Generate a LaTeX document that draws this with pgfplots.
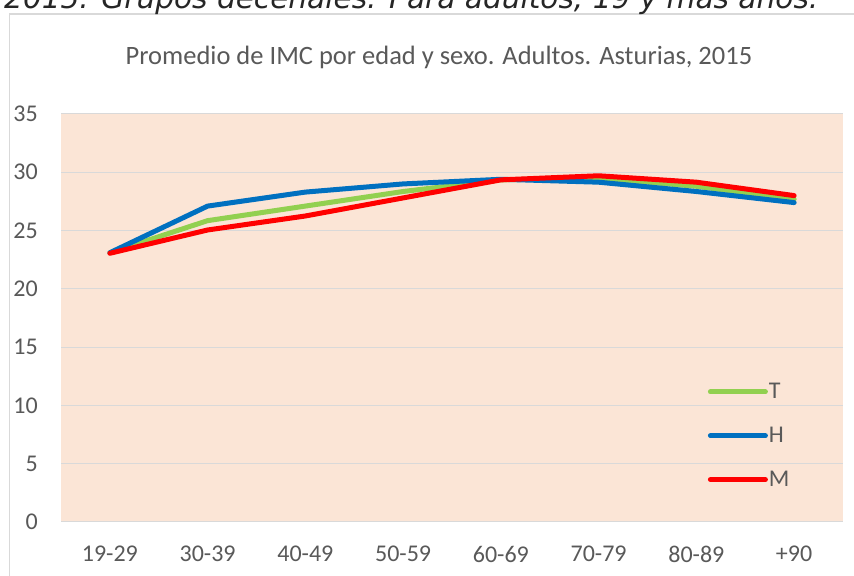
\documentclass[border=0pt]{standalone}
\usepackage{pgfplots}
\pgfplotsset{compat=1.18}
\usepackage{fontspec}
\setmainfont{Carlito}
\newfontfamily\vfont{DejaVu Sans}
\definecolor{bgpeach}{HTML}{FBE5D6}
\definecolor{gridgray}{HTML}{D9D9D9}
\definecolor{txtgray}{HTML}{595959}
\definecolor{cT}{HTML}{92D050}
\definecolor{cH}{HTML}{0070C0}
\definecolor{cM}{HTML}{FF0000}
\begin{document}
\begin{tikzpicture}[x=1bp,y=1bp]
\useasboundingbox (0,0) rectangle (854,576);
\clip (0,0) rectangle (854,576);
\fill[white] (0,0) rectangle (854,576);
\draw[color=gridgray, line width=1.5bp] (9.5,562) rectangle (900,-20);
\node[anchor=base west, inner sep=0pt, text=black!85] at (4,567) {\resizebox{814bp}{!}{\vfont\itshape 2015. Grupos decenales. Para adultos, 19 y más años.}};
\node[anchor=base, inner sep=0pt, text=txtgray, font=\fontsize{26.5bp}{30bp}\selectfont] at (439,511) {Promedio de IMC por edad y sexo. Adultos. Asturias, 2015};
\begin{axis}[
  at={(61bp,54bp)}, anchor=south west,
  scale only axis, width=782bp, height=408bp,
  xmin=-0.5, xmax=7.5, ymin=0, ymax=35,
  xtick={0,...,7},
  xticklabels={19-29,30-39,40-49,50-59,60-69,70-79,80-89,+90},
  ytick={0,5,...,35},
  ymajorgrids,
  grid style={color=gridgray, line width=1bp},
  axis line style={draw=none},
  major tick length=0pt,
  axis background/.style={fill=bgpeach},
  /pgf/number format/assume math mode=true,
  tick label style={font=\fontsize{24bp}{26bp}\selectfont, text=txtgray},
  yticklabel style={inner sep=0pt, anchor=east, xshift=-23bp},
  xticklabel style={inner sep=0pt, anchor=north, yshift=-24bp},
  every axis plot/.append style={line width=5bp, line cap=round, line join=round},
  legend image code/.code={\draw[#1, line width=5bp] (0bp,7bp) -- (55bp,7bp);},
  legend style={at={(axis description cs:0.827,0.34)}, anchor=north west,
    draw=none, fill=none, inner sep=0pt, row sep=27bp, column sep=1bp,
    font=\fontsize{24bp}{26bp}\selectfont, text=txtgray,
    nodes={inner sep=0pt, anchor=base west}},
  legend cell align=left,
]
\addplot[color=cT] coordinates {(0,23.1) (1,25.85) (2,27.1) (3,28.35) (4,29.35) (5,29.5) (6,28.8) (7,27.7)};
\addlegendentry{T}
\addplot[color=cH] coordinates {(0,23.1) (1,27.1) (2,28.3) (3,29.0) (4,29.4) (5,29.15) (6,28.35) (7,27.4)};
\addlegendentry{H}
\addplot[color=cM] coordinates {(0,23.05) (1,25.05) (2,26.25) (3,27.8) (4,29.35) (5,29.7) (6,29.15) (7,28.0)};
\addlegendentry{M}
\end{axis}
\end{tikzpicture}
\end{document}
